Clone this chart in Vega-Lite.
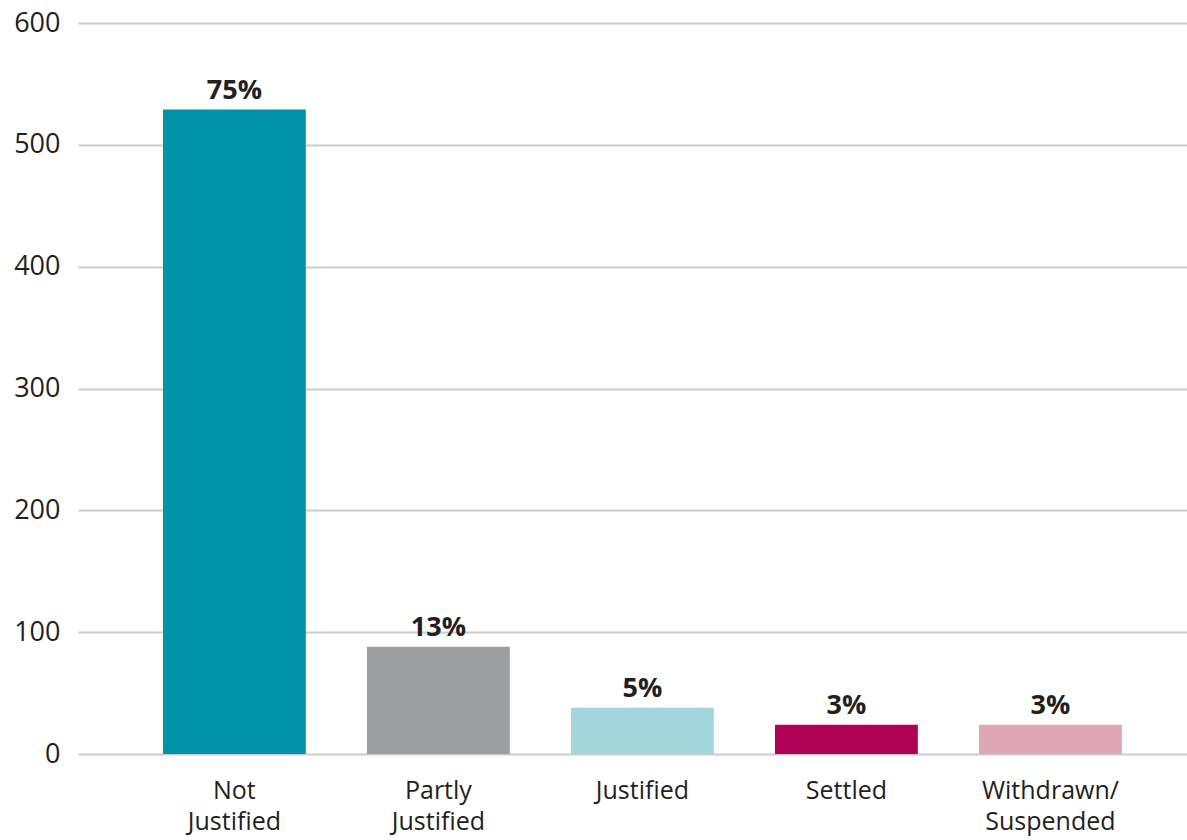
{
  "$schema": "https://vega.github.io/schema/vega-lite/v6.json",
  "autosize": "none",
  "padding": {"left": 78, "top": 23, "right": 0, "bottom": 86},
  "width": 1109,
  "height": 731,
  "background": "white",
  "config": {
    "view": {"stroke": null},
    "font": "Open Sans"
  },
  "data": {
    "values": [
      {"outcome": "Not Justified", "count": 529, "pct": "75%"},
      {"outcome": "Partly Justified", "count": 88, "pct": "13%"},
      {"outcome": "Justified", "count": 38, "pct": "5%"},
      {"outcome": "Settled", "count": 24, "pct": "3%"},
      {"outcome": "Withdrawn/ Suspended", "count": 24, "pct": "3%"}
    ]
  },
  "encoding": {
    "x": {
      "field": "outcome",
      "type": "nominal",
      "sort": null,
      "scale": {"paddingInner": 0.3, "paddingOuter": 0.368, "align": 0.566},
      "axis": {
        "title": null,
        "domain": false,
        "ticks": false,
        "labelAngle": 0,
        "labelExpr": "split(datum.label, ' ')",
        "labelFont": "Open Sans",
        "labelFontSize": 25,
        "labelColor": "#231f20",
        "labelPadding": 24,
        "labelLineHeight": 31,
        "labelBaseline": "top"
      }
    },
    "y": {
      "field": "count",
      "type": "quantitative",
      "scale": {"domain": [0, 600], "nice": false},
      "axis": {
        "title": null,
        "values": [0, 100, 200, 300, 400, 500, 600],
        "domain": false,
        "ticks": false,
        "grid": true,
        "gridColor": "#cccccc",
        "gridWidth": 2,
        "labelFont": "Open Sans",
        "labelFontSize": 27,
        "labelColor": "#231f20",
        "labelPadding": 18
      }
    }
  },
  "layer": [
    {
      "mark": {"type": "bar"},
      "encoding": {
        "color": {
          "field": "outcome",
          "type": "nominal",
          "sort": null,
          "scale": {
            "domain": ["Not Justified", "Partly Justified", "Justified", "Settled", "Withdrawn/ Suspended"],
            "range": ["#0093a7", "#9d9ea0", "#a3d6dc", "#b10056", "#dfa6b5"]
          },
          "legend": null
        }
      }
    },
    {
      "mark": {"type": "text", "fontWeight": "bold", "fontSize": 27, "baseline": "alphabetic", "dy": -11, "color": "#231f20", "font": "Open Sans"},
      "encoding": {
        "text": {"field": "pct"}
      }
    }
  ]
}
